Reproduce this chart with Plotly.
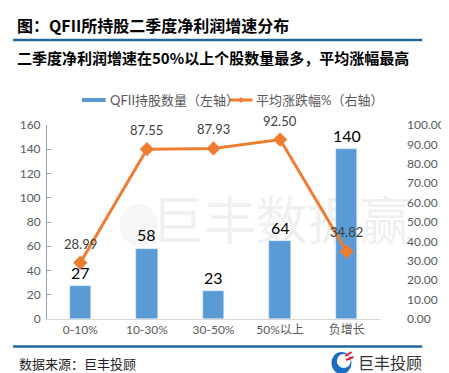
import plotly.graph_objects as go

categories = ["0-10%", "10-30%", "30-50%", "50%以上", "负增长"]
stock_counts = [27, 58, 23, 64, 140]
avg_change = [28.99, 87.55, 87.93, 92.50, 34.82]
left_ticks = list(range(0, 161, 20))
right_ticks = list(range(0, 101, 10))

W, H = 449, 373
L, R, T, B = 39, 402, 117, 311


def px(x):
    return (x - L) / (R - L)


def py(y):
    return (B - y) / (B - T)


FONT = "Lato, 'Noto Sans CJK SC', sans-serif"
CJK = "'Noto Sans CJK SC', sans-serif"
BLUE = "#5b9bd5"
ORANGE = "#ed7d31"
GRAY = "#595959"
LINE = "#22689a"

fig = go.Figure()
fig.add_trace(go.Bar(
    x=categories, y=stock_counts, name="QFII持股数量（左轴）",
    marker_color=BLUE, width=0.32, showlegend=False,
))
fig.add_trace(go.Scatter(
    x=categories, y=avg_change, yaxis="y2", name="平均涨跌幅%（右轴）",
    mode="lines+markers",
    line=dict(color=ORANGE, width=3),
    marker=dict(symbol="diamond", size=11, color=ORANGE),
    cliponaxis=False, showlegend=False,
))

shapes = [
    dict(type="line", xref="paper", yref="paper", x0=px(2), x1=px(448), y0=py(32), y1=py(32),
         line=dict(color=LINE, width=2.5)),
    dict(type="line", xref="paper", yref="paper", x0=px(2), x1=px(448), y0=py(338.5), y1=py(338.5),
         line=dict(color=LINE, width=2.5)),
    # legend symbols
    dict(type="rect", xref="paper", yref="paper", x0=px(77), x1=px(103), y0=py(94), y1=py(90),
         fillcolor=BLUE, line=dict(width=0)),
    dict(type="line", xref="paper", yref="paper", x0=px(238), x1=px(263), y0=py(92), y1=py(92),
         line=dict(color=ORANGE, width=3)),
    dict(type="path", xref="paper", yref="paper",
         path=f"M {px(250.5)} {py(89)} L {px(253.5)} {py(92)} L {px(250.5)} {py(95)} L {px(247.5)} {py(92)} Z",
         fillcolor=ORANGE, line=dict(width=0)),
    # watermark
    dict(type="rect", xref="paper", yref="paper", x0=px(155), x1=px(435), y0=py(245), y1=py(190),
         line=dict(width=0), fillcolor="rgba(0,0,0,0)", layer="below",
         label=dict(text="巨丰数据赢", font=dict(size=52, color="rgba(0,0,0,0.06)", family=CJK),
                    textposition="middle center")),
    dict(type="circle", xref="paper", yref="paper", x0=px(118), x1=px(160), y0=py(238), y1=py(196),
         line=dict(width=0), fillcolor="rgba(0,0,0,0.035)", layer="below"),
    # footer logo icon
    dict(type="circle", xref="paper", yref="paper", x0=px(349), x1=px(371), y0=py(366), y1=py(344),
         line=dict(width=0), fillcolor="#1c6fc0"),
    dict(type="circle", xref="paper", yref="paper", x0=px(355), x1=px(370), y0=py(360), y1=py(346),
         line=dict(width=0), fillcolor="#ffffff"),
    dict(type="line", xref="paper", yref="paper", x0=px(364), x1=px(371), y0=py(348), y1=py(344),
         line=dict(color="#e02020", width=2)),
    dict(type="line", xref="paper", yref="paper", x0=px(365), x1=px(373), y0=py(352), y1=py(349),
         line=dict(color="#e02020", width=2)),
]

annotations = [
    dict(text="<b>图：QFII所持股二季度净利润增速分布</b>", xref="paper", yref="paper",
         x=px(4), y=py(17), xanchor="left", yanchor="middle", showarrow=False,
         font=dict(size=16, color="#000000", family=CJK)),
    dict(text="<b>二季度净利润增速在50%以上个股数量最多，平均涨幅最高</b>", xref="paper", yref="paper",
         x=px(4), y=py(50), xanchor="left", yanchor="middle", showarrow=False,
         font=dict(size=15, color="#000000", family=CJK)),
    dict(text="QFII持股数量（左轴）", xref="paper", yref="paper",
         x=px(105), y=py(92), xanchor="left", yanchor="middle", showarrow=False,
         font=dict(size=13, color=GRAY, family=FONT)),
    dict(text="平均涨跌幅%（右轴）", xref="paper", yref="paper",
         x=px(265), y=py(92), xanchor="left", yanchor="middle", showarrow=False,
         font=dict(size=13, color=GRAY, family=FONT)),
    dict(text="数据来源：巨丰投顾", xref="paper", yref="paper",
         x=px(6), y=py(355), xanchor="left", yanchor="middle", showarrow=False,
         font=dict(size=13, color="#222222", family=CJK)),
    dict(text="巨丰投顾", xref="paper", yref="paper",
         x=px(376), y=py(354), xanchor="left", yanchor="middle", showarrow=False,
         font=dict(size=16, color="#333333", family=CJK)),
]

# data labels anchored on the data through the axes
for c, v in zip(categories, stock_counts):
    annotations.append(dict(text=str(v), x=c, y=v, xref="x", yref="y", showarrow=False,
                            xanchor="center", yanchor="middle", yshift=14,
                            font=dict(size=16, color="#000000", family=FONT)))
for c, v in zip(categories, avg_change):
    annotations.append(dict(text=f"{v:.2f}", x=c, y=v, xref="x", yref="y2", showarrow=False,
                            xanchor="center", yanchor="middle", yshift=19,
                            font=dict(size=13, color="#404040", family=FONT)))

fig.update_layout(
    width=W, height=H,
    margin=dict(l=L, r=W - R, t=T, b=H - B, pad=0),
    paper_bgcolor="#ffffff", plot_bgcolor="#ffffff",
    showlegend=False, bargap=0,
    font=dict(family=FONT, color=GRAY),
    xaxis=dict(type="category", showline=True, linecolor="#d9d9d9", linewidth=1,
               ticks="", showgrid=False, tickfont=dict(size=12, color=GRAY, family=FONT)),
    yaxis=dict(range=[0, 160], tickvals=left_ticks, showgrid=False, zeroline=False,
               showline=True, linecolor="#8fa3bd", linewidth=1,
               ticks="inside", ticklen=4, tickcolor="#8fa3bd",
               tickfont=dict(size=12, color=GRAY, family=FONT), ticklabelstandoff=3),
    yaxis2=dict(range=[0, 100], tickvals=right_ticks, tickformat=".2f", overlaying="y", side="right",
                showgrid=False, zeroline=False, showline=False, ticks="", color=GRAY,
                tickfont=dict(size=12, color=GRAY, family=FONT), ticklabelstandoff=26),
    shapes=shapes, annotations=annotations,
)

fig.write_html("out.html")
